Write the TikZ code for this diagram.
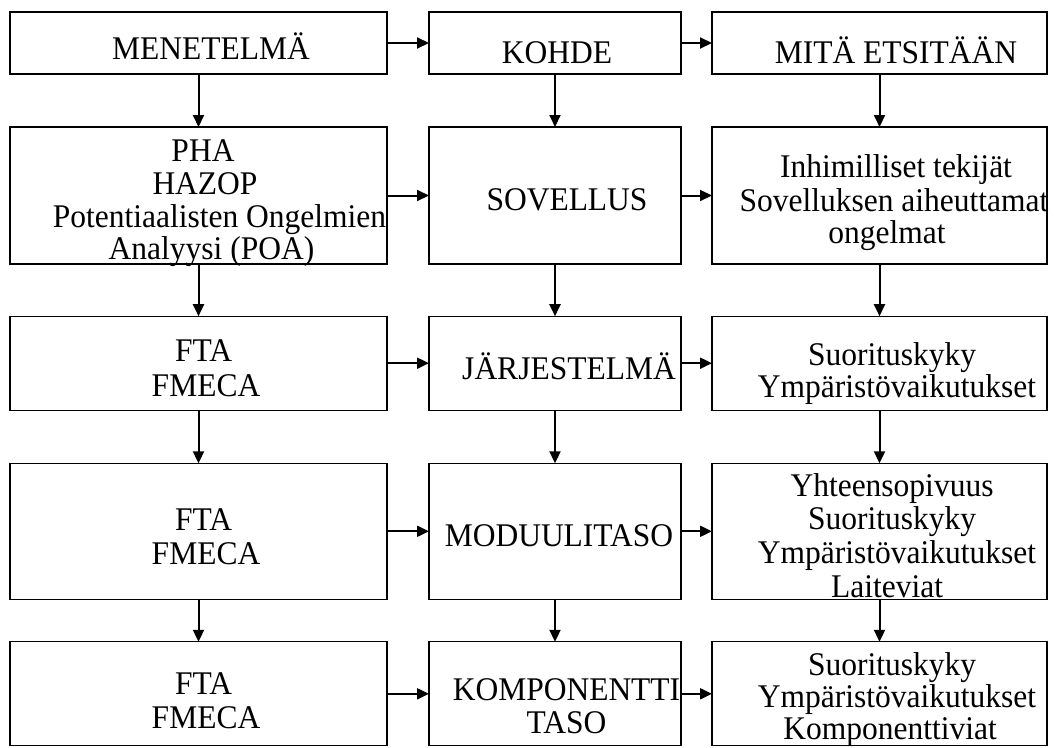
\documentclass[tikz,border=0pt]{standalone}
\usepackage{fontspec}
\usepackage{graphicx}
\setmainfont{Liberation Serif}
\usetikzlibrary{arrows.meta}

% the label face is a little taller than the plain font
\newcommand\tallface[1]{\scalebox{1}[1.05]{#1}}

% Boxes, flow arrows and text lines of the analysis-level chart
\tikzset{
  box/.style={draw=black, line width=1.2pt, rectangle, inner sep=0pt, outer sep=0pt},
  flow/.style={line width=2pt, -{Triangle[length=12pt,width=11pt]}},
  lbl/.style={anchor=base, inner sep=0pt, font=\fontsize{31.5}{33}\selectfont}
}

\begin{document}
\begin{tikzpicture}[x=1pt, y=-1pt]
\useasboundingbox (0,0) rectangle (1059,747);

% column boxes: method, target, what is looked for
\node[box, minimum width=377pt, minimum height=62pt]  (m1) at (198.5,43) {};
\node[box, minimum width=252pt, minimum height=62pt]  (k1) at (555,43) {};
\node[box, minimum width=335pt, minimum height=62pt]  (e1) at (879.5,43) {};

\node[box, minimum width=377pt, minimum height=137pt] (m2) at (198.5,195.5) {};
\node[box, minimum width=252pt, minimum height=137pt] (k2) at (555,195.5) {};
\node[box, minimum width=335pt, minimum height=137pt] (e2) at (879.5,195.5) {};

\node[box, minimum width=377pt, minimum height=94pt]  (m3) at (198.5,363.2) {};
\node[box, minimum width=252pt, minimum height=94pt]  (k3) at (555,363.2) {};
\node[box, minimum width=335pt, minimum height=94pt]  (e3) at (879.5,363.2) {};

\node[box, minimum width=377pt, minimum height=136pt] (m4) at (198.5,531.3) {};
\node[box, minimum width=252pt, minimum height=136pt] (k4) at (555,531.3) {};
\node[box, minimum width=335pt, minimum height=136pt] (e4) at (879.5,531.3) {};

\node[box, minimum width=377pt, minimum height=104pt] (m5) at (198.5,693.8) {};
\node[box, minimum width=252pt, minimum height=104pt] (k5) at (555,693.8) {};
\node[box, minimum width=335pt, minimum height=104pt] (e5) at (879.5,693.8) {};

% horizontal flow
\foreach \r in {1,...,5}{
  \draw[flow] (m\r.east) -- (k\r.west);
  \draw[flow] (k\r.east) -- (e\r.west);
}
% vertical flow
\foreach \r/\s in {1/2,2/3,3/4,4/5}{
  \draw[flow] (m\r.south) -- (m\s.north);
  \draw[flow] (k\r.south) -- (k\s.north);
  \draw[flow] (e\r.south) -- (e\s.north);
}

% row 1
\node[lbl] (t1a) at (211,59) {\tallface{MENETELMÄ}};
\node[lbl] (t1b) at (557,63) {\tallface{KOHDE}};
\node[lbl] (t1c) at (896,63) {\tallface{MITÄ ETSITÄÄN}};

% row 2
\node[lbl] (t2a1) at (203,161.7) {\tallface{PHA}};
\node[lbl] (t2a2) at (205,194) {\tallface{HAZOP}};
\node[lbl] (t2a3) at (219.5,227.3) {\tallface{Potentiaalisten Ongelmien}};
\node[lbl] (t2a4) at (211.5,259.5) {\tallface{Analyysi (POA)}};
\node[lbl] (t2b)  at (567,210.7) {\tallface{SOVELLUS}};
\node[lbl] (t2c1) at (896,177.3) {\tallface{Inhimilliset tekijät}};
\node[lbl] (t2c2) at (894,211.7) {\tallface{Sovelluksen aiheuttamat}};
\node[lbl] (t2c3) at (887,243) {\tallface{ongelmat}};

% row 3
\node[lbl] (t3a1) at (203.5,361.7) {\tallface{FTA}};
\node[lbl] (t3a2) at (206,396.7) {\tallface{FMECA}};
\node[lbl] (t3b)  at (569,379.3) {\tallface{JÄRJESTELMÄ}};
\node[lbl] (t3c1) at (892,365) {\tallface{Suorituskyky}};
\node[lbl] (t3c2) at (897,397) {\tallface{Ympäristövaikutukset}};

% row 4
\node[lbl] (t4a1) at (203.5,530) {\tallface{FTA}};
\node[lbl] (t4a2) at (206,564) {\tallface{FMECA}};
\node[lbl] (t4b)  at (559,546.7) {\tallface{MODUULITASO}};
\node[lbl] (t4c1) at (892,496) {\tallface{Yhteensopivuus}};
\node[lbl] (t4c2) at (892,529) {\tallface{Suorituskyky}};
\node[lbl] (t4c3) at (897,563) {\tallface{Ympäristövaikutukset}};
\node[lbl] (t4c4) at (887,597) {\tallface{Laiteviat}};

% row 5
\node[lbl] (t5a1) at (203.5,694) {\tallface{FTA}};
\node[lbl] (t5a2) at (206,728) {\tallface{FMECA}};
\node[lbl] (t5b1) at (566.5,700) {\tallface{KOMPONENTTI}};
\node[lbl] (t5b2) at (566.5,733) {\tallface{TASO}};
\node[lbl] (t5c1) at (892,675) {\tallface{Suorituskyky}};
\node[lbl] (t5c2) at (897,707) {\tallface{Ympäristövaikutukset}};
\node[lbl] (t5c3) at (890,739) {\tallface{Komponenttiviat}};
\end{tikzpicture}
\end{document}
